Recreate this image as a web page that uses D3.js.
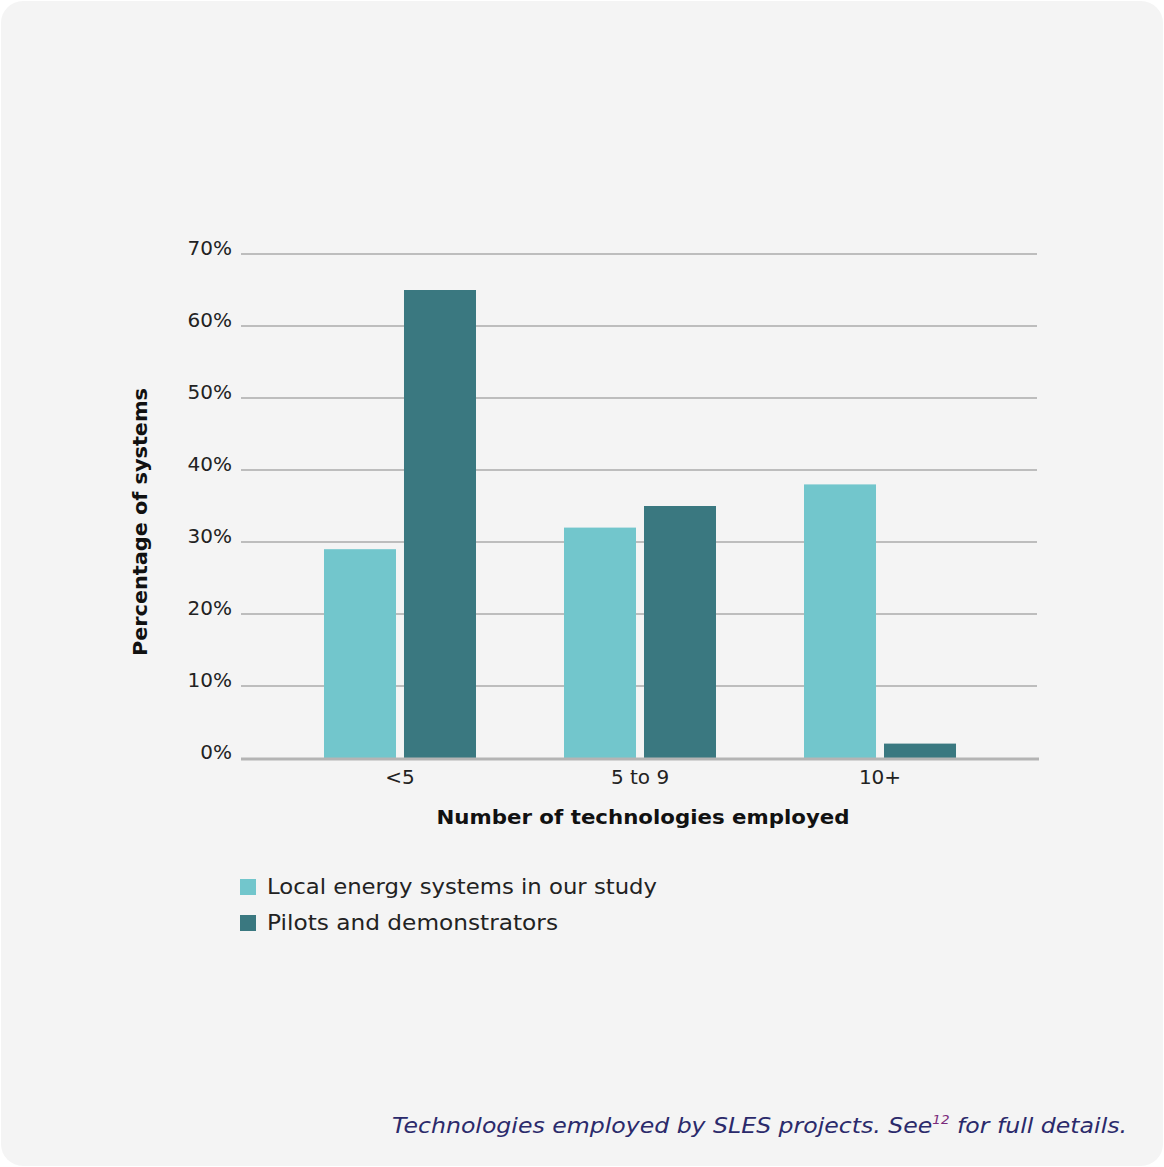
<!DOCTYPE html>
<html>
<head>
<meta charset="utf-8">
<script src="https://cdn.jsdelivr.net/npm/d3@7"></script>
<style>
  body { margin:0; background:#fff; }
  text { font-family: "DejaVu Sans", sans-serif; }
</style>
</head>
<body>
<div id="content"></div>
<script>
// data
const categories = ["<5", "5 to 9", "10+"];
const seriesNames = ["Local energy systems in our study", "Pilots and demonstrators"];
const localValues = [29, 32, 38];
const pilotValues = [65, 35, 2];
const yTicks = [0, 10, 20, 30, 40, 50, 60, 70];
const colors = ["#72c6cc", "#3a7880"];
const legendWidths = [390, 291];

const W = 1164, H = 1167;

const svg = d3.select("#content")
    .append("svg")
    .attr("width", W)
    .attr("height", H);

// card background
svg.append("rect")
    .attr("x", 1).attr("y", 1)
    .attr("width", W - 2).attr("height", H - 2)
    .attr("rx", 22)
    .attr("fill", "#f4f4f4");

const x0 = d3.scaleBand()
    .domain(categories)
    .range([280, 1000])
    .paddingInner(0.3667)
    .paddingOuter(0.1833);

const x1 = d3.scaleBand()
    .domain(seriesNames)
    .range([0, x0.bandwidth()])
    .paddingInner(0.1);

const y = d3.scaleLinear()
    .domain([0, 70])
    .range([758, 254]);

// gridlines
svg.append("g").selectAll("line")
    .data(yTicks.filter(t => t > 0))
    .enter().append("line")
    .attr("x1", 241).attr("x2", 1037)
    .attr("y1", d => y(d)).attr("y2", d => y(d))
    .attr("stroke", "#bdbdbd")
    .attr("stroke-width", 2);

// y tick labels
svg.append("g").selectAll("text")
    .data(yTicks)
    .enter().append("text")
    .attr("x", 232)
    .attr("y", d => y(d) + 1)
    .attr("text-anchor", "end")
    .attr("font-size", 20)
    .attr("fill", "#222")
    .text(d => d + "%");

// bars
const rows = categories.map((c, i) => ({ cat: c, vals: [localValues[i], pilotValues[i]] }));
const groups = svg.append("g").selectAll("g")
    .data(rows)
    .enter().append("g")
    .attr("transform", d => "translate(" + x0(d.cat) + ",0)");

groups.selectAll("rect")
    .data(d => d.vals.map((v, j) => ({ name: seriesNames[j], v: v, j: j })))
    .enter().append("rect")
    .attr("x", d => x1(d.name))
    .attr("y", d => y(d.v))
    .attr("width", x1.bandwidth())
    .attr("height", d => y(0) - y(d.v))
    .attr("fill", d => colors[d.j]);

// baseline
svg.append("line")
    .attr("x1", 241).attr("x2", 1039)
    .attr("y1", y(0) + 1).attr("y2", y(0) + 1)
    .attr("stroke", "#b4b4b4")
    .attr("stroke-width", 3);

// x tick labels
svg.append("g").selectAll("text")
    .data(categories)
    .enter().append("text")
    .attr("x", d => x0(d) + x0.bandwidth() / 2)
    .attr("y", 784)
    .attr("text-anchor", "middle")
    .attr("font-size", 20)
    .attr("fill", "#222")
    .text(d => d);

// axis titles
svg.append("text")
    .attr("x", 643).attr("y", 824)
    .attr("text-anchor", "middle")
    .attr("font-size", 20)
    .attr("font-weight", "bold")
    .attr("fill", "#111")
    .attr("textLength", 413)
    .attr("lengthAdjust", "spacingAndGlyphs")
    .text("Number of technologies employed");

svg.append("text")
    .attr("transform", "translate(147,522) rotate(-90)")
    .attr("text-anchor", "middle")
    .attr("font-size", 20)
    .attr("font-weight", "bold")
    .attr("fill", "#111")
    .attr("textLength", 268)
    .attr("lengthAdjust", "spacingAndGlyphs")
    .text("Percentage of systems");

// legend
const legend = svg.append("g").selectAll("g")
    .data(seriesNames)
    .enter().append("g")
    .attr("transform", (d, i) => "translate(240," + (879 + i * 36) + ")");

legend.append("rect")
    .attr("width", 16).attr("height", 16)
    .attr("fill", (d, i) => colors[i]);

legend.append("text")
    .attr("x", 27).attr("y", 15)
    .attr("font-size", 21)
    .attr("fill", "#222")
    .attr("textLength", (d, i) => legendWidths[i])
    .attr("lengthAdjust", "spacingAndGlyphs")
    .text(d => d);

// caption
const cap = svg.append("text")
    .attr("x", 392).attr("y", 1133)
    .attr("font-size", 21)
    .attr("font-style", "italic")
    .attr("fill", "#2b2a6b")
    .attr("textLength", 735)
    .attr("lengthAdjust", "spacingAndGlyphs");
cap.append("tspan").text("Technologies employed by SLES projects. See");
cap.append("tspan").attr("font-size", 12).attr("dy", -9).attr("fill", "#7a2a7a").text("12");
cap.append("tspan").attr("dy", 9).text(" for full details.");
</script>
</body>
</html>
